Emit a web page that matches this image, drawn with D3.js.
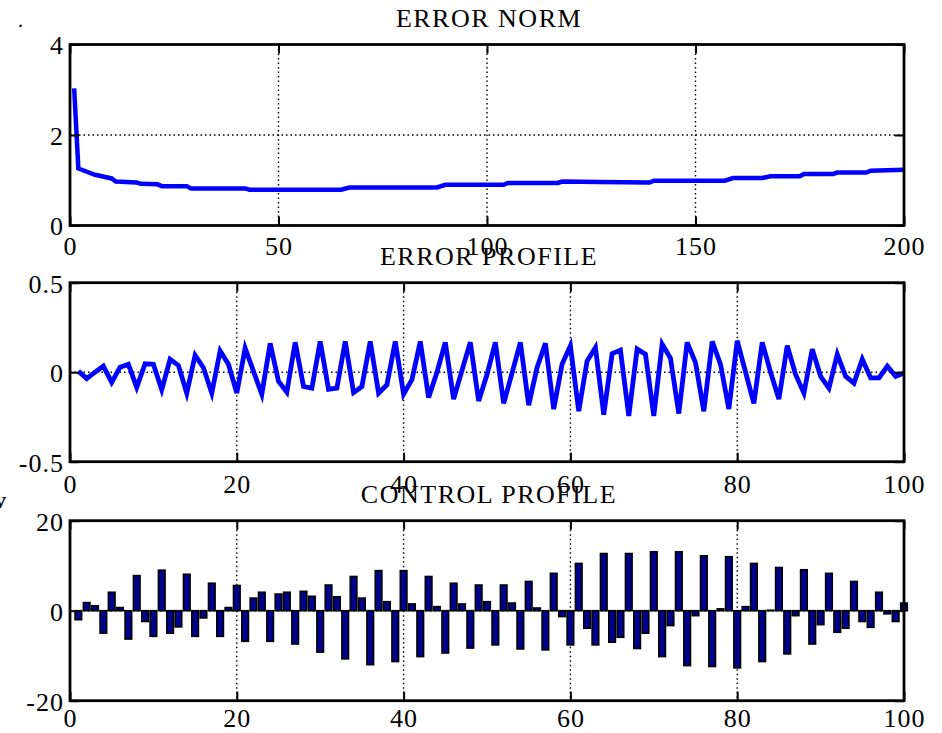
<!DOCTYPE html>
<html>
<head>
<meta charset="utf-8">
<script src="https://cdn.jsdelivr.net/npm/d3@7"></script>
<style>
body { margin: 0; background: #fff; }
text { font-family: "Liberation Serif", "Times New Roman", serif; fill: #000; }
</style>
</head>
<body>
<script>
// error norm, breakpoints of the curve (iteration, value)
var normIter = [1, 2, 6, 10, 11, 16, 17, 21, 22, 28, 29, 42, 43, 65, 67, 88, 90, 104, 105, 117, 118, 127, 139, 140, 157, 159, 166, 168, 175, 176, 183, 184, 191, 192, 200];
var normVal  = [3.03, 1.26, 1.12, 1.04, 0.97, 0.95, 0.92, 0.91, 0.87, 0.87, 0.82, 0.82, 0.79, 0.79, 0.84, 0.84, 0.90, 0.90, 0.94, 0.94, 0.97, 0.96, 0.95, 0.99, 0.99, 1.05, 1.05, 1.09, 1.09, 1.14, 1.14, 1.17, 1.17, 1.21, 1.23];

// error profile, samples 1..100
var errProfile = [
  0.006, -0.036, 0.0, 0.034, -0.057, 0.028, 0.044, -0.085, 0.047, 0.044,
  -0.098, 0.072, 0.038, -0.117, 0.095, 0.025, -0.117, 0.119, 0.044, -0.117,
  0.134, 0.005, -0.123, 0.161, -0.051, -0.112, 0.167, -0.080, -0.089, 0.172,
  -0.095, -0.089, 0.172, -0.114, -0.080, 0.172, -0.117, -0.070, 0.172, -0.123,
  -0.042, 0.172, -0.142, 0.0, 0.167, -0.150, 0.01, 0.167, -0.161, -0.013,
  0.167, -0.174, -0.005, 0.167, -0.184, 0.025, 0.161, -0.206, 0.044, 0.148,
  -0.218, 0.062, 0.138, -0.237, 0.104, 0.123, -0.244, 0.129, 0.100, -0.244,
  0.157, 0.078, -0.231, 0.167, 0.053, -0.218, 0.172, 0.044, -0.206, 0.176,
  0.0, -0.174, 0.167, 0.0, -0.150, 0.148, -0.013, -0.117, 0.129, -0.023,
  -0.089, 0.100, -0.023, -0.061, 0.072, -0.032, -0.032, 0.034, -0.023, -0.004
];

// control profile, samples 1..100
var ctrlProfile = [
  -2.0, 1.8, 1.1, -5.0, 4.1, 0.7, -6.3, 7.8, -2.4, -5.7,
  9.0, -5.0, -3.6, 8.1, -5.7, -1.6, 6.1, -5.7, 0.7, 5.6,
  -6.8, 2.8, 4.1, -6.8, 3.7, 4.1, -7.4, 4.3, 3.2, -9.2,
  5.7, 3.1, -10.7, 7.6, 2.8, -12.0, 8.9, 2.0, -11.3, 8.9,
  1.5, -10.2, 7.6, 0.9, -9.4, 6.1, 1.5, -8.3, 5.7, 2.0,
  -7.6, 5.7, 1.7, -8.5, 6.5, 0.6, -8.7, 8.3, -1.3, -7.6,
  10.5, -3.9, -7.6, 12.7, -7.0, -5.9, 12.7, -8.4, -5.0, 13.1,
  -10.2, -3.3, 13.1, -12.2, -1.1, 12.2, -12.4, 0.4, 12.0, -12.7,
  0.9, 10.5, -11.3, 0.1, 9.6, -9.6, -1.1, 9.1, -7.4, -3.1,
  8.3, -4.8, -3.9, 6.5, -2.4, -3.7, 4.1, -0.7, -2.4, 1.7
];

var titles = ["ERROR NORM", "ERROR PROFILE", "CONTROL PROFILE"];
var normXTicks = [0, 50, 100, 150, 200];
var normYTicks = [0, 2, 4];
var profXTicks = [0, 20, 40, 60, 80, 100];
var errYTicks = [-0.5, 0, 0.5];
var ctrlYTicks = [-20, 0, 20];

var width = 942, height = 733,
    left = 70, right = 904;

var svg = d3.select("body").append("svg")
    .attr("width", width)
    .attr("height", height);

// plain labels: "4" not "4.0", hyphen instead of unicode minus
var fmt = d => String(d);

function panel(top, bottom, xdom, ydom, xticks, yticks, title, labelPad) {
  var x = d3.scaleLinear().domain(xdom).range([left, right]);
  var y = d3.scaleLinear().domain(ydom).range([bottom, top]);
  var g = svg.append("g");

  // dotted grid
  g.selectAll(".vgrid").data(xticks.slice(1, -1)).enter().append("line")
      .attr("x1", x).attr("x2", x)
      .attr("y1", top).attr("y2", bottom)
      .attr("stroke", "#000").attr("stroke-width", 1.4)
      .attr("stroke-dasharray", "1.5,3");
  g.selectAll(".hgrid").data(yticks.slice(1, -1)).enter().append("line")
      .attr("x1", left).attr("x2", right)
      .attr("y1", y).attr("y2", y)
      .attr("stroke", "#000").attr("stroke-width", 1.4)
      .attr("stroke-dasharray", "1.5,3");

  var data = g.append("g");

  // frame and ticks
  g.append("rect")
      .attr("x", left).attr("y", top)
      .attr("width", right - left).attr("height", bottom - top)
      .attr("fill", "none").attr("stroke", "#000").attr("stroke-width", 2.8);

  g.append("g").attr("transform", "translate(0," + bottom + ")")
      .call(d3.axisBottom(x).tickValues(xticks).tickFormat(fmt)
        .tickSizeInner(-9).tickSizeOuter(0).tickPadding(labelPad));
  g.append("g").attr("transform", "translate(0," + top + ")")
      .call(d3.axisTop(x).tickValues(xticks).tickSizeInner(-9).tickSizeOuter(0).tickFormat(""));
  var ay = g.append("g").attr("transform", "translate(" + left + ",0)")
      .call(d3.axisLeft(y).tickValues(yticks).tickFormat(fmt)
        .tickSizeInner(-9).tickSizeOuter(0).tickPadding(6));
  g.append("g").attr("transform", "translate(" + right + ",0)")
      .call(d3.axisRight(y).tickValues(yticks).tickSizeInner(-9).tickSizeOuter(0).tickFormat(""));

  g.selectAll(".domain").remove();
  g.selectAll(".tick line").attr("stroke", "#000").attr("stroke-width", 2);
  g.selectAll(".tick text")
      .style("font-family", '"Liberation Serif", "Times New Roman", serif')
      .style("font-size", "26px")
      .style("letter-spacing", "1px");
  ay.selectAll(".tick text").attr("dy", "0.36em");

  svg.append("text")
      .attr("x", (left + right) / 2 + 2)
      .attr("y", top - 17.5)
      .attr("text-anchor", "middle")
      .style("font-size", "26px")
      .style("letter-spacing", "1.5px")
      .text(title);

  return { g: data, x: x, y: y };
}

// ERROR NORM
var p1 = panel(44.5, 225.5, [0, 200], [0, 4], normXTicks, normYTicks, titles[0], 11);
p1.g.append("path")
    .datum(d3.zip(normIter, normVal))
    .attr("fill", "none")
    .attr("stroke", "#0000ff")
    .attr("stroke-width", 4.5)
    .attr("d", d3.line().x(d => p1.x(d[0])).y(d => p1.y(d[1])));

// ERROR PROFILE
var p2 = panel(282.7, 461.7, [0, 100], [-0.5, 0.5], profXTicks, errYTicks, titles[1], 13);
p2.g.append("path")
    .datum(errProfile)
    .attr("fill", "none")
    .attr("stroke", "#0000ff")
    .attr("stroke-width", 4.8)
    .attr("d", d3.line().x((d, i) => p2.x(i + 1)).y(d => p2.y(d)));

// CONTROL PROFILE
var p3 = panel(520.7, 700.7, [0, 100], [-20, 20], profXTicks, ctrlYTicks, titles[2], 8);
p3.g.selectAll("rect").data(ctrlProfile).enter().append("rect")
    .attr("x", (d, i) => p3.x(i + 1) - 3.3)
    .attr("width", 6.6)
    .attr("y", d => Math.min(p3.y(d), p3.y(0)))
    .attr("height", d => Math.abs(p3.y(d) - p3.y(0)))
    .attr("fill", "#00008c")
    .attr("stroke", "#000")
    .attr("stroke-width", 1.6);

// stray marks on the scanned page
svg.append("text").attr("x", 18).attr("y", 27).style("font-size", "20px").text(".");
svg.append("text").attr("x", -6).attr("y", 508).style("font-size", "24px").style("font-weight", "bold").text("v");
</script>
</body>
</html>
